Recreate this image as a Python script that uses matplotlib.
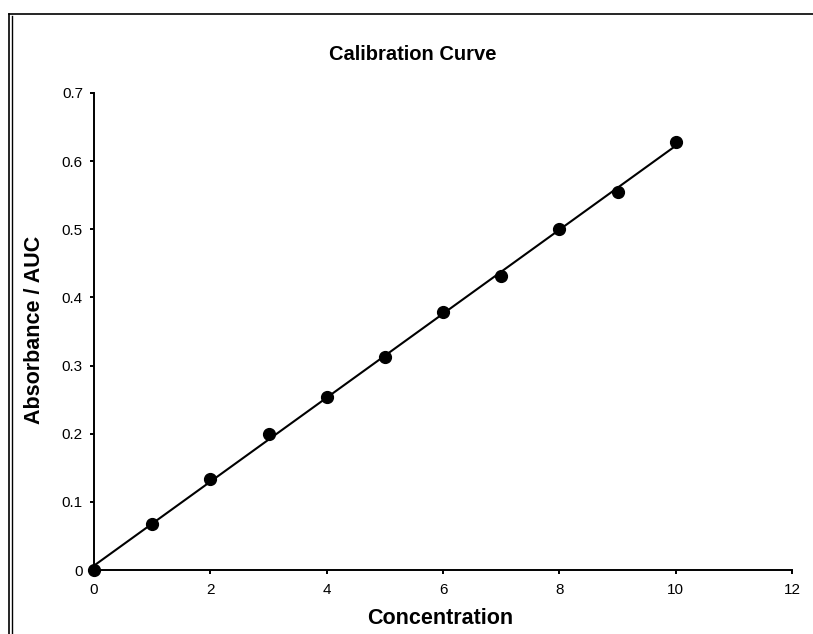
import matplotlib
matplotlib.use("Agg")
import matplotlib.pyplot as plt
from matplotlib.lines import Line2D
import numpy as np

plt.rcParams['font.family'] = ['Liberation Sans', 'DejaVu Sans']

concentration = [0, 1, 2, 3, 4, 5, 6, 7, 8, 9, 10]
absorbance = [0.0, 0.067, 0.133, 0.200, 0.254, 0.313, 0.378, 0.432, 0.500, 0.554, 0.628]
x_ticks = [0, 2, 4, 6, 8, 10, 12]
y_ticks = [0, 0.1, 0.2, 0.3, 0.4, 0.5, 0.6, 0.7]
y_tick_labels = ["0", "0.1", "0.2", "0.3", "0.4", "0.5", "0.6", "0.7"]

W, H = 813, 634
fig = plt.figure(figsize=(W / 100, H / 100), dpi=100)
ax = fig.add_axes([94 / W, 1 - 570 / H, (792 - 94) / W, (570 - 93) / H])

# trendline
slope, intercept = np.polyfit(concentration, absorbance, 1)
xs = np.array([0, 10])
ax.plot(xs, slope * xs + intercept, color='black', lw=1.5, zorder=2, clip_on=False)
ax.plot(concentration, absorbance, 'o', color='black', markersize=8.5, zorder=3, clip_on=False)

ax.set_xlim(0, 12)
ax.set_ylim(0, 0.7)
ax.set_xticks(x_ticks)
ax.set_xticklabels([str(v) for v in x_ticks])
ax.set_yticks(y_ticks)
ax.set_yticklabels(y_tick_labels)
for s in ['top', 'right']:
    ax.spines[s].set_visible(False)
for s in ['left', 'bottom']:
    ax.spines[s].set_linewidth(1.4)
ax.tick_params(direction='out', length=3, width=1.4, labelsize=11, pad=6)
ax.tick_params(axis='y', pad=5)

fig.text(413 / W, 1 - 54 / H, "Calibration Curve", ha='center', va='center',
         fontsize=14.5, fontweight='bold')
fig.text(440 / W, 1 - 619 / H, "Concentration", ha='center', va='center',
         fontsize=15.5, fontweight='bold')
fig.text(35 / W, 1 - 330 / H, "Absorbance / AUC", ha='center', va='center',
         fontsize=15.5, fontweight='bold', rotation=90)

# outer frame (partially cropped)
fig.add_artist(Line2D([9 / W, 1], [1 - 14 / H, 1 - 14 / H], color='black', lw=1.2, transform=fig.transFigure))
fig.add_artist(Line2D([9 / W, 9 / W], [0, 1 - 14 / H], color='black', lw=1.2, transform=fig.transFigure))
fig.add_artist(Line2D([12 / W, 12 / W], [0, 1 - 16 / H], color='black', lw=1.0, transform=fig.transFigure))

fig.savefig("out.png", dpi=100)
